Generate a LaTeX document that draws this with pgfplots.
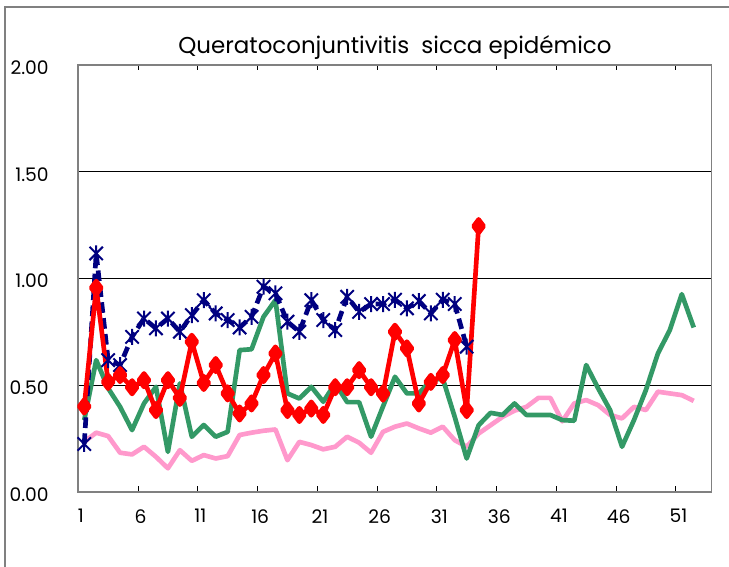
\documentclass[border=0pt]{standalone}
\usepackage{fontspec}
\setmainfont{Poppins}
\usepackage{pgfplots}
\pgfplotsset{compat=1.18}

\definecolor{xlpink}{HTML}{FF99CC}
\definecolor{xlgreen}{HTML}{339966}
\definecolor{xlred}{HTML}{FF0000}
\definecolor{xlnavy}{HTML}{000080}
\definecolor{framegray}{HTML}{808080}

% Excel style star: an X with a vertical bar
\pgfdeclareplotmark{xstar}{%
  \pgfpathmoveto{\pgfpoint{-\pgfplotmarksize}{-\pgfplotmarksize}}%
  \pgfpathlineto{\pgfpoint{\pgfplotmarksize}{\pgfplotmarksize}}%
  \pgfpathmoveto{\pgfpoint{-\pgfplotmarksize}{\pgfplotmarksize}}%
  \pgfpathlineto{\pgfpoint{\pgfplotmarksize}{-\pgfplotmarksize}}%
  \pgfpathmoveto{\pgfpoint{0pt}{-1.2\pgfplotmarksize}}%
  \pgfpathlineto{\pgfpoint{0pt}{1.2\pgfplotmarksize}}%
  \pgfusepathqstroke}

\begin{document}
\begin{tikzpicture}
\useasboundingbox (-58.7pt,-55.7pt) rectangle (488pt,368.8pt);
\draw[framegray, line width=1.2pt] (-55pt,-60pt) -- (-55pt,363.5pt) -- (490pt,363.5pt);
\begin{axis}[
  at={(0,0)}, anchor=south west,
  scale only axis, width=475pt, height=320pt,
  xmin=0.5, xmax=53.5, ymin=0, ymax=2,
  axis line style={framegray, line width=1.2pt},
  xtick={1,6,...,51},
  major tick length=0pt,
  minor xtick={5.5,10.5,...,50.5},
  minor tick length=4pt,
  tick align=inside,
  minor tick style={black, line width=0.6pt},
  ytick={0,0.5,1,1.5,2},
  ymajorgrids,
  major grid style={black, line width=0.6pt},
  yticklabel style={/pgf/number format/fixed, /pgf/number format/fixed zerofill,
    /pgf/number format/precision=2, inner sep=0pt, xshift=-22pt, yshift=-2pt},
  xticklabel style={inner sep=0pt, yshift=-13pt, xshift=-2.5pt},
  /pgf/number format/assume math mode=true,
  tick label style={font=\fontsize{14}{16}\selectfont},
  title={Queratoconjuntivitis\ \ sicca epidémico},
  title style={font=\fontsize{17.2}{20}\selectfont, yshift=-5pt},
  clip=false,
]
\addplot[xlpink, line width=3.5pt, line join=round, mark=none] coordinates {
(1,0.234)(2,0.277)(3,0.261)(4,0.183)(5,0.175)(6,0.211)(7,0.164)(8,0.11)(9,0.195)(10,0.145)
(11,0.172)(12,0.156)(13,0.167)(14,0.266)(15,0.277)(16,0.286)(17,0.292)(18,0.148)(19,0.234)(20,0.219)
(21,0.199)(22,0.211)(23,0.258)(24,0.23)(25,0.183)(26,0.281)(27,0.305)(28,0.32)(29,0.297)(30,0.277)
(31,0.305)(32,0.242)(33,0.211)(34,0.273)(35,0.312)(36,0.351)(37,0.38)(38,0.398)(39,0.44)(40,0.44)
(41,0.33)(42,0.414)(43,0.43)(44,0.406)(45,0.36)(46,0.344)(47,0.398)(48,0.383)(49,0.469)(50,0.461)
(51,0.453)(52,0.426)};
\addplot[xlgreen, line width=3.5pt, line join=round, mark=none] coordinates {
(1,0.336)(2,0.617)(3,0.485)(4,0.398)(5,0.289)(6,0.414)(7,0.492)(8,0.187)(9,0.508)(10,0.258)
(11,0.313)(12,0.258)(13,0.281)(14,0.664)(15,0.668)(16,0.82)(17,0.898)(18,0.461)(19,0.437)(20,0.492)
(21,0.422)(22,0.508)(23,0.42)(24,0.42)(25,0.258)(26,0.40)(27,0.539)(28,0.461)(29,0.461)(30,0.523)
(31,0.531)(32,0.351)(33,0.156)(34,0.312)(35,0.37)(36,0.36)(37,0.414)(38,0.36)(39,0.36)(40,0.36)
(41,0.336)(42,0.333)(43,0.594)(44,0.485)(45,0.383)(46,0.211)(47,0.336)(48,0.477)(49,0.648)(50,0.758)
(51,0.926)(52,0.77)};
\addplot[xlnavy, line width=3.5pt, dash pattern=on 8pt off 4pt,
  mark=xstar, mark size=5pt, mark options={solid, line width=1.5pt}] coordinates {
(1,0.224)(2,1.117)(3,0.617)(4,0.594)(5,0.726)(6,0.812)(7,0.766)(8,0.812)(9,0.75)(10,0.828)
(11,0.898)(12,0.836)(13,0.805)(14,0.77)(15,0.82)(16,0.961)(17,0.93)(18,0.797)(19,0.75)(20,0.898)
(21,0.805)(22,0.758)(23,0.914)(24,0.843)(25,0.88)(26,0.88)(27,0.90)(28,0.86)(29,0.894)(30,0.836)
(31,0.90)(32,0.88)(33,0.68)};
\addplot[xlred, line width=3.5pt, line join=round,
  mark=diamond*, mark size=5pt, mark options={solid}] coordinates {
(1,0.40)(2,0.956)(3,0.515)(4,0.547)(5,0.49)(6,0.523)(7,0.383)(8,0.523)(9,0.44)(10,0.703)
(11,0.51)(12,0.594)(13,0.461)(14,0.367)(15,0.414)(16,0.547)(17,0.648)(18,0.383)(19,0.36)(20,0.39)
(21,0.36)(22,0.49)(23,0.49)(24,0.57)(25,0.49)(26,0.46)(27,0.75)(28,0.672)(29,0.414)(30,0.515)
(31,0.547)(32,0.711)(33,0.383)(34,1.245)};
\end{axis}
\end{tikzpicture}
\end{document}
